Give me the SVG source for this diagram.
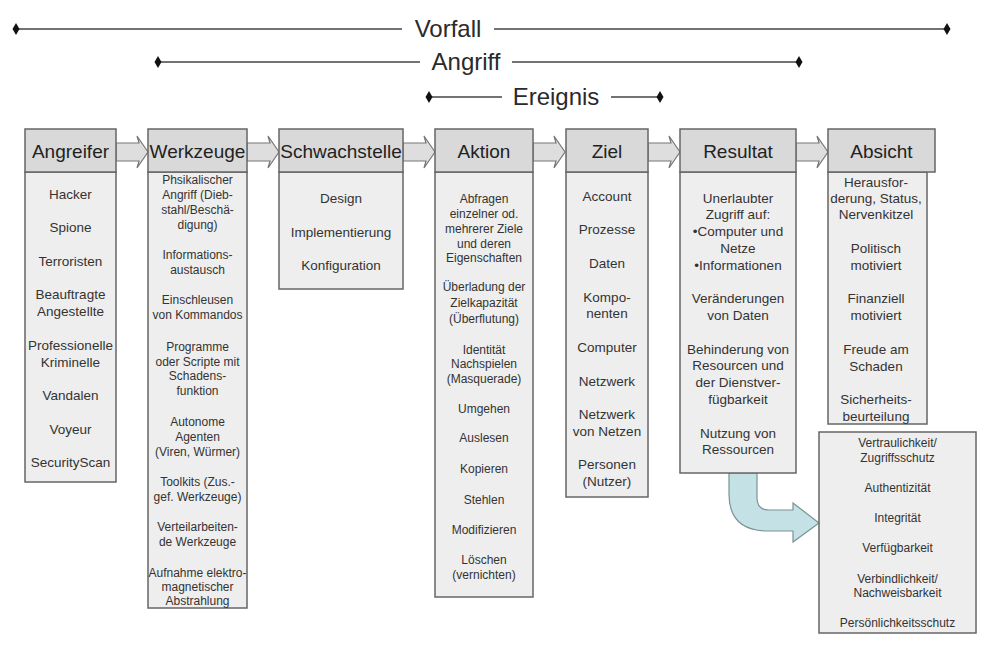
<svg xmlns="http://www.w3.org/2000/svg" xmlns:xlink="http://www.w3.org/1999/xlink" width="1004" height="663" viewBox="0 0 1004 663">
<style>
text{font-family:"Liberation Sans",Arial,sans-serif;fill:#333;text-anchor:middle}
.top{font-size:24px;fill:#2a2a2a}
.hd{font-size:19px;fill:#222}
.b{font-size:13.5px}
.s{font-size:12px}
.hr{fill:#d9d9d9;stroke:#666;stroke-width:1.5}
.br{fill:#eeeeee;stroke:#666;stroke-width:1.5}
.ln{stroke:#444;stroke-width:1.5;fill:none}
.arr{fill:#dedede;stroke:#777;stroke-width:1.2}
.curve{fill:#c4e2e5;stroke:#7a9396;stroke-width:1.2}
</style>
<defs>
<marker id="dia" viewBox="-4 -7 8 14" markerWidth="8" markerHeight="14" refX="0" refY="0" markerUnits="userSpaceOnUse" orient="0">
<polygon points="0,-6 3.5,0 0,6 -3.5,0" fill="#111"/>
</marker>
<polygon id="blk" points="0,143 23,143 21,136 32,152 21,168 23,161 0,161"/>
</defs>
<rect width="1004" height="663" fill="#fff"/>

<g id="scope-lines">
<line class="ln" x1="16" y1="29" x2="402" y2="29" marker-start="url(#dia)"/>
<line class="ln" x1="494" y1="29" x2="947" y2="29" marker-end="url(#dia)"/>
<text class="top" x="448" y="37">Vorfall</text>
<line class="ln" x1="158" y1="62" x2="420" y2="62" marker-start="url(#dia)"/>
<line class="ln" x1="512" y1="62" x2="799" y2="62" marker-end="url(#dia)"/>
<text class="top" x="466" y="70">Angriff</text>
<line class="ln" x1="429" y1="97" x2="502" y2="97" marker-start="url(#dia)"/>
<line class="ln" x1="611" y1="97" x2="660" y2="97" marker-end="url(#dia)"/>
<text class="top" x="556" y="105">Ereignis</text>
</g>

<g id="connectors">
<use href="#blk" class="arr" x="116"/>
<use href="#blk" class="arr" x="247"/>
<use href="#blk" class="arr" x="403"/>
<use href="#blk" class="arr" x="533"/>
<use href="#blk" class="arr" x="648"/>
<use href="#blk" class="arr" x="796"/>
<path class="curve" d="M729,473 L757,473 L757,498 Q757,510 769,510 L793,510 L793,503 L819,523 L793,542 L793,531 L768,531 Q729,531 729,494 Z"/>
</g>

<g id="angreifer">
<rect class="br" x="25" y="172" width="91" height="310"/>
<rect class="hr" x="25" y="129" width="91" height="43"/>
<text class="hd" x="70.5" y="158">Angreifer</text>
<text class="b" x="70.5" y="198.5">Hacker</text>
<text class="b" x="70.5" y="231.5">Spione</text>
<text class="b" x="70.5" y="265.5">Terroristen</text>
<text class="b" x="70.5" y="298.5">Beauftragte</text>
<text class="b" x="70.5" y="315.5">Angestellte</text>
<text class="b" x="70.5" y="349.5">Professionelle</text>
<text class="b" x="70.5" y="366.5">Kriminelle</text>
<text class="b" x="70.5" y="399.5">Vandalen</text>
<text class="b" x="70.5" y="433.5">Voyeur</text>
<text class="b" x="70.5" y="466.5">SecurityScan</text>
</g>

<g id="werkzeuge">
<rect class="br" x="148" y="172" width="99" height="436"/>
<rect class="hr" x="148" y="129" width="99" height="43"/>
<text class="hd" x="197.5" y="158">Werkzeuge</text>
<text class="s" x="197.5" y="184">Phsikalischer</text>
<text class="s" x="197.5" y="199">Angriff (Dieb-</text>
<text class="s" x="197.5" y="214">stahl/Beschä-</text>
<text class="s" x="197.5" y="229">digung)</text>
<text class="s" x="197.5" y="259">Informations-</text>
<text class="s" x="197.5" y="274">austausch</text>
<text class="s" x="197.5" y="304">Einschleusen</text>
<text class="s" x="197.5" y="319">von Kommandos</text>
<text class="s" x="197.5" y="351">Programme</text>
<text class="s" x="197.5" y="365.5">oder Scripte mit</text>
<text class="s" x="197.5" y="380">Schadens-</text>
<text class="s" x="197.5" y="394.5">funktion</text>
<text class="s" x="197.5" y="426">Autonome</text>
<text class="s" x="197.5" y="441">Agenten</text>
<text class="s" x="197.5" y="456">(Viren, Würmer)</text>
<text class="s" x="197.5" y="486">Toolkits (Zus.-</text>
<text class="s" x="197.5" y="501">gef. Werkzeuge)</text>
<text class="s" x="197.5" y="531">Verteilarbeiten-</text>
<text class="s" x="197.5" y="546">de Werkzeuge</text>
<text class="s" x="197.5" y="577">Aufnahme elektro-</text>
<text class="s" x="197.5" y="591">magnetischer</text>
<text class="s" x="197.5" y="605">Abstrahlung</text>
</g>

<g id="schwachstelle">
<rect class="br" x="279" y="172" width="124" height="117"/>
<rect class="hr" x="279" y="129" width="124" height="43"/>
<text class="hd" x="341" y="158">Schwachstelle</text>
<text class="b" x="341" y="202.5">Design</text>
<text class="b" x="341" y="236.5">Implementierung</text>
<text class="b" x="341" y="269.5">Konfiguration</text>
</g>

<g id="aktion">
<rect class="br" x="435" y="172" width="98" height="425"/>
<rect class="hr" x="435" y="129" width="98" height="43"/>
<text class="hd" x="484" y="158">Aktion</text>
<text class="s" x="484" y="203">Abfragen</text>
<text class="s" x="484" y="218">einzelner od.</text>
<text class="s" x="484" y="233">mehrerer Ziele</text>
<text class="s" x="484" y="248">und deren</text>
<text class="s" x="484" y="262">Eigenschaften</text>
<text class="s" x="484" y="291">Überladung der</text>
<text class="s" x="484" y="307">Zielkapazität</text>
<text class="s" x="484" y="323">(Überflutung)</text>
<text class="s" x="484" y="354">Identität</text>
<text class="s" x="484" y="368">Nachspielen</text>
<text class="s" x="484" y="383">(Masquerade)</text>
<text class="s" x="484" y="413">Umgehen</text>
<text class="s" x="484" y="442">Auslesen</text>
<text class="s" x="484" y="473">Kopieren</text>
<text class="s" x="484" y="504">Stehlen</text>
<text class="s" x="484" y="534">Modifizieren</text>
<text class="s" x="484" y="564">Löschen</text>
<text class="s" x="484" y="579">(vernichten)</text>
</g>

<g id="ziel">
<rect class="br" x="566" y="172" width="82" height="325"/>
<rect class="hr" x="566" y="129" width="82" height="43"/>
<text class="hd" x="607" y="158">Ziel</text>
<text class="b" x="607" y="200.5">Account</text>
<text class="b" x="607" y="233.5">Prozesse</text>
<text class="b" x="607" y="267.5">Daten</text>
<text class="b" x="607" y="301.5">Kompo-</text>
<text class="b" x="607" y="318">nenten</text>
<text class="b" x="607" y="351.5">Computer</text>
<text class="b" x="607" y="385.5">Netzwerk</text>
<text class="b" x="607" y="418.5">Netzwerk</text>
<text class="b" x="607" y="435.5">von Netzen</text>
<text class="b" x="607" y="468.5">Personen</text>
<text class="b" x="607" y="486">(Nutzer)</text>
</g>

<g id="resultat">
<rect class="br" x="680" y="172" width="116" height="301"/>
<rect class="hr" x="680" y="129" width="116" height="43"/>
<text class="hd" x="738" y="158">Resultat</text>
<text class="b" x="738" y="202.5">Unerlaubter</text>
<text class="b" x="738" y="218.5">Zugriff auf:</text>
<text class="b" x="738" y="235.5">•Computer und</text>
<text class="b" x="738" y="252.5">Netze</text>
<text class="b" x="738" y="269.5">•Informationen</text>
<text class="b" x="738" y="302.5">Veränderungen</text>
<text class="b" x="738" y="319.5">von Daten</text>
<text class="b" x="738" y="353.5">Behinderung von</text>
<text class="b" x="738" y="369.5">Resourcen und</text>
<text class="b" x="738" y="387">der Dienstver-</text>
<text class="b" x="738" y="403.5">fügbarkeit</text>
<text class="b" x="738" y="437.5">Nutzung von</text>
<text class="b" x="738" y="453.5">Ressourcen</text>
</g>

<g id="absicht">
<rect class="br" x="828" y="172" width="99" height="252"/>
<rect class="hr" x="828" y="129" width="107" height="43"/>
<text class="hd" x="881.5" y="158">Absicht</text>
<text class="b" x="876" y="186.5">Herausfor-</text>
<text class="b" x="876" y="202.5">derung, Status,</text>
<text class="b" x="876" y="218.5">Nervenkitzel</text>
<text class="b" x="876" y="252.5">Politisch</text>
<text class="b" x="876" y="269.5">motiviert</text>
<text class="b" x="876" y="302.5">Finanziell</text>
<text class="b" x="876" y="319.5">motiviert</text>
<text class="b" x="876" y="353.5">Freude am</text>
<text class="b" x="876" y="370.5">Schaden</text>
<text class="b" x="876" y="403.5">Sicherheits-</text>
<text class="b" x="876" y="420.5">beurteilung</text>
</g>

<g id="schutzziele">
<rect class="br" x="819" y="432" width="157" height="201"/>
<text class="s" x="897.5" y="447">Vertraulichkeit/</text>
<text class="s" x="897.5" y="462">Zugriffsschutz</text>
<text class="s" x="897.5" y="492">Authentizität</text>
<text class="s" x="897.5" y="522">Integrität</text>
<text class="s" x="897.5" y="552">Verfügbarkeit</text>
<text class="s" x="897.5" y="583">Verbindlichkeit/</text>
<text class="s" x="897.5" y="597">Nachweisbarkeit</text>
<text class="s" x="897.5" y="627">Persönlichkeitsschutz</text>
</g>
</svg>
